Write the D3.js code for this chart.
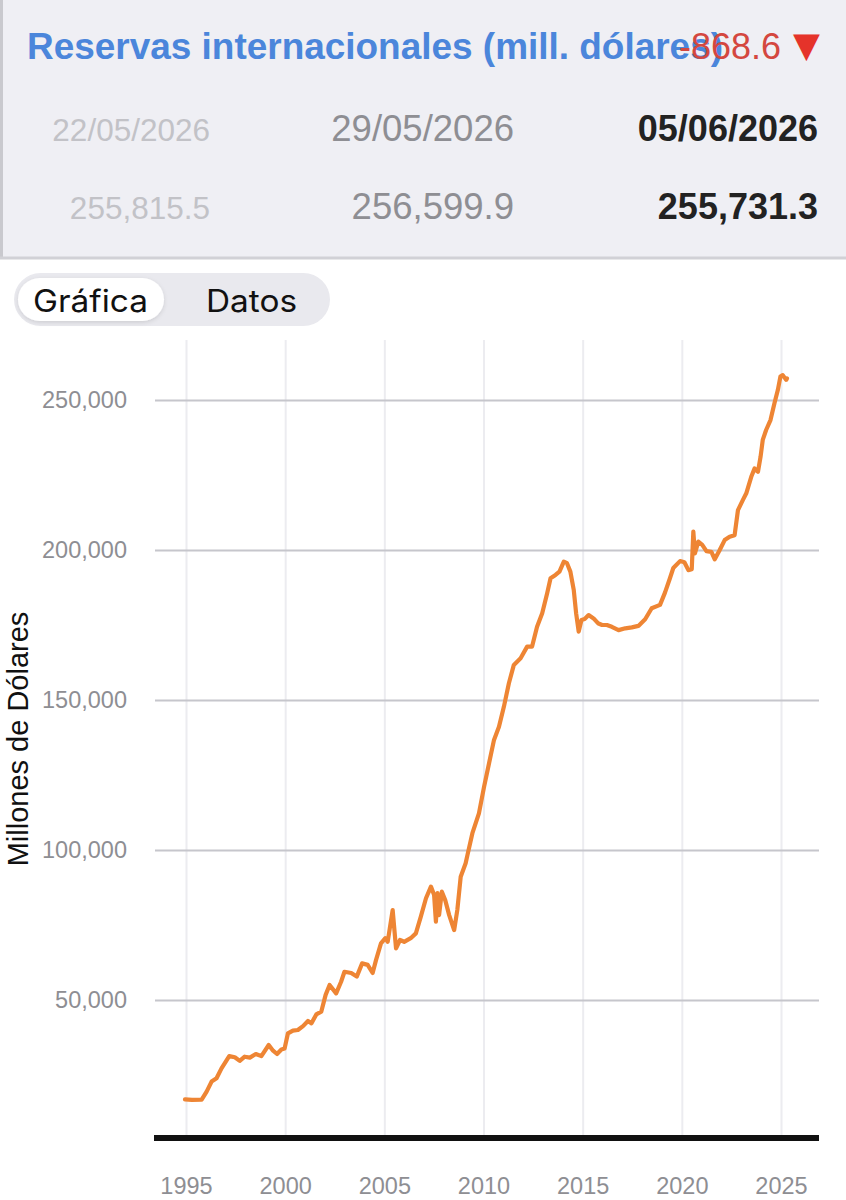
<!DOCTYPE html>
<html>
<head>
<meta charset="utf-8">
<script src="https://cdn.jsdelivr.net/npm/d3@7"></script>
<style>
  html, body { margin: 0; padding: 0; background: #ffffff; }
  svg { display: block; }
</style>
</head>
<body>
<svg id="chart" width="846" height="1200"></svg>
<script>
// ---------------- DATA ----------------
const years = [
  1994.95, 1995.3, 1995.79, 1996.04, 1996.29, 1996.54, 1996.79, 1997.18, 1997.46, 1997.71,
  1997.96, 1998.22, 1998.52, 1998.8, 1999.17, 1999.39, 1999.59, 1999.81, 1999.97, 2000.14,
  2000.39, 2000.64, 2000.9, 2001.15, 2001.32, 2001.57, 2001.82, 2002.04, 2002.24, 2002.57,
  2002.82, 2002.99, 2003.33, 2003.61, 2003.88, 2004.16, 2004.41, 2004.58, 2004.83, 2005.05,
  2005.17, 2005.42, 2005.59, 2005.79, 2006.0, 2006.33, 2006.59, 2006.84, 2007.1, 2007.35,
  2007.51, 2007.6, 2007.68, 2007.76, 2007.9, 2008.07, 2008.27, 2008.52, 2008.68, 2008.85,
  2009.1, 2009.19, 2009.44, 2009.77, 2010.03, 2010.28, 2010.53, 2010.78, 2011.03, 2011.28,
  2011.53, 2011.87, 2012.2, 2012.45, 2012.7, 2012.96, 2013.21, 2013.38, 2013.63, 2013.83,
  2014.05, 2014.21, 2014.38, 2014.55, 2014.67, 2014.8, 2014.94, 2015.1, 2015.3, 2015.55,
  2015.77, 2015.98, 2016.22, 2016.47, 2016.81, 2017.15, 2017.48, 2017.81, 2018.15, 2018.48,
  2018.9, 2019.15, 2019.4, 2019.57, 2019.91, 2020.13, 2020.33, 2020.5, 2020.58, 2020.66,
  2020.83, 2021.03, 2021.24, 2021.49, 2021.66, 2021.91, 2022.16, 2022.41, 2022.66, 2022.83,
  2023.08, 2023.25, 2023.5, 2023.67, 2023.84, 2023.97, 2024.08, 2024.25, 2024.47, 2024.67,
  2024.84, 2024.97, 2025.09, 2025.26, 2025.3
];
const reserves = [
  16900, 16700, 16800, 19450, 22800, 23900, 27200, 31300, 30900, 29700,
  31100, 30800, 32000, 31300, 35000, 33100, 32000, 33500, 33800, 38900,
  39800, 40000, 41300, 43000, 42200, 45200, 46100, 51700, 55000, 52200,
  56100, 59400, 59000, 57800, 62200, 61700, 59000, 63300, 68900, 70600,
  69400, 80000, 67200, 70000, 69400, 70600, 72200, 77800, 83900, 87800,
  85000, 76100, 85600, 78300, 86100, 83300, 78300, 73300, 80000, 91100,
  95600, 98300, 105600, 112200, 121100, 128900, 136700, 141100, 147800, 155600,
  161700, 163900, 167800, 167800, 174400, 178900, 185600, 190600, 191700, 192800,
  196100, 195600, 192800, 186700, 178900, 172800, 176700, 177000, 178300, 177200,
  175600, 175000, 175000, 174400, 173300, 173900, 174200, 174700, 176900, 180600,
  181700, 185800, 190600, 194000, 196300, 195900, 193300, 193600, 206100, 198900,
  202800, 201700, 199600, 199400, 196900, 200000, 203300, 204400, 204900, 213300,
  216700, 218900, 224400, 227200, 226100, 231100, 236700, 240000, 243300, 248900,
  253300, 257800, 258300, 256700, 257200
];
const xTicks = [1995, 2000, 2005, 2010, 2015, 2020, 2025];
const yTicks = [50000, 100000, 150000, 200000, 250000];
const axisFloor = 4000;

const titleText = "Reservas internacionales (mill. dólares)";
const changeText = "-868.6";
const changeArrow = "▼";
const headerDates = ["22/05/2026", "29/05/2026", "05/06/2026"];
const headerValues = ["255,815.5", "256,599.9", "255,731.3"];
const tabLabels = ["Gráfica", "Datos"];
const yAxisTitle = "Millones de Dólares";

// ---------------- DRAW ----------------
const svg = d3.select("#chart");
const ARIAL = "'Liberation Sans', Arial, Helvetica, sans-serif";
const UI = "Inter, 'Noto Sans', sans-serif";

const defs = svg.append("defs");
const f = defs.append("filter").attr("id", "sh").attr("x", "-20%").attr("y", "-30%").attr("width", "140%").attr("height", "160%");
f.append("feDropShadow").attr("dx", 0).attr("dy", 1.5).attr("stdDeviation", 2).attr("flood-color", "#000").attr("flood-opacity", 0.12);

// Header panel
const header = svg.append("g");
header.append("rect").attr("x", 0).attr("y", 0).attr("width", 846).attr("height", 258).attr("fill", "#efeff4");
header.append("line").attr("x1", 1.5).attr("x2", 1.5).attr("y1", 0).attr("y2", 259).attr("stroke", "#c9c9ce").attr("stroke-width", 3);
header.append("line").attr("x1", 0).attr("x2", 846).attr("y1", 258).attr("y2", 258).attr("stroke", "#d1d1d6").attr("stroke-width", 3);

header.append("text").attr("x", 27).attr("y", 59)
  .attr("font-family", ARIAL).attr("font-weight", "bold").attr("font-size", 36)
  .attr("fill", "#4b86db").attr("textLength", 696).attr("lengthAdjust", "spacingAndGlyphs")
  .text(titleText);
header.append("text").attr("x", 781).attr("y", 59).attr("text-anchor", "end")
  .attr("font-family", ARIAL).attr("font-size", 36).attr("fill", "#d4473f")
  .text(changeText);
header.append("text").attr("x", 820).attr("y", 57).attr("text-anchor", "end")
  .attr("font-family", "'DejaVu Sans', sans-serif").attr("font-size", 35).attr("fill", "#e5332a")
  .text(changeArrow);

const colX = [210, 514, 818];
const colSize = [31.5, 36.5, 36];
const colFill = ["#c2c2c7", "#8e8e93", "#222222"];
const colWeight = ["normal", "normal", "bold"];
headerDates.forEach((d, i) => {
  header.append("text").attr("x", colX[i]).attr("y", 141).attr("text-anchor", "end")
    .attr("font-family", ARIAL).attr("font-size", colSize[i]).attr("font-weight", colWeight[i])
    .attr("fill", colFill[i]).text(d);
});
headerValues.forEach((d, i) => {
  header.append("text").attr("x", colX[i]).attr("y", 219).attr("text-anchor", "end")
    .attr("font-family", ARIAL).attr("font-size", colSize[i]).attr("font-weight", colWeight[i])
    .attr("fill", colFill[i]).text(d);
});

// Segmented control
const seg = svg.append("g");
seg.append("rect").attr("x", 14).attr("y", 273).attr("width", 316).attr("height", 53).attr("rx", 26.5).attr("fill", "#e9e9ee");
seg.append("rect").attr("x", 18).attr("y", 278).attr("width", 146).attr("height", 43).attr("rx", 21.5).attr("fill", "#ffffff").attr("filter", "url(#sh)");
const tabCx = [90.5, 251.5];
const tabLen = [115, 91];
tabLabels.forEach((t, i) => {
  seg.append("text").attr("x", tabCx[i]).attr("y", 312).attr("text-anchor", "middle")
    .attr("font-family", UI).attr("font-size", 31).attr("fill", "#111")
    .attr("textLength", tabLen[i]).attr("lengthAdjust", "spacingAndGlyphs")
    .text(t);
});

// Chart
const xLeft = 155, xRight = 819, plotTop = 340;
const x = d3.scaleLinear().domain([1995, 2025]).range([186, 781]);
const y = d3.scaleLinear().domain([0, 250000]).range([1150, 400]);
const yFloor = y(axisFloor);

const xAxis = d3.axisBottom(x).tickValues(xTicks).tickFormat(d3.format("d"))
  .tickSize(-(yFloor - plotTop)).tickPadding(39);
const gx = svg.append("g").attr("transform", `translate(0,${yFloor})`).call(xAxis);
gx.select(".domain").remove();
gx.selectAll(".tick line").attr("stroke", "#ececf0").attr("stroke-width", 2);
gx.selectAll(".tick text").attr("font-family", ARIAL).attr("font-size", 23.5).attr("fill", "#8e8e93");

const yAxis = d3.axisLeft(y).tickValues(yTicks).tickFormat(d3.format(","))
  .tickSize(-(xRight - xLeft)).tickPadding(28);
const gy = svg.append("g").attr("transform", `translate(${xLeft},0)`).call(yAxis);
gy.select(".domain").remove();
gy.selectAll(".tick line").attr("stroke", "#c6c6cc").attr("stroke-width", 2);
gy.selectAll(".tick text").attr("font-family", ARIAL).attr("font-size", 23.5).attr("fill", "#8e8e93");

svg.append("text").attr("transform", `translate(28,${y(137000)}) rotate(-90)`)
  .attr("text-anchor", "middle").attr("font-family", ARIAL).attr("font-size", 29).attr("fill", "#111")
  .text(yAxisTitle);

const series = years.map((yr, i) => ({ yr, v: reserves[i] }));
const line = d3.line().x(d => x(d.yr)).y(d => y(d.v));
svg.append("path").datum(series).attr("d", line)
  .attr("fill", "none").attr("stroke", "#ee8534").attr("stroke-width", 4.2)
  .attr("stroke-linejoin", "round").attr("stroke-linecap", "round");

svg.append("line").attr("x1", xLeft - 1).attr("x2", xRight).attr("y1", yFloor).attr("y2", yFloor)
  .attr("stroke", "#111").attr("stroke-width", 6);
</script>
</body>
</html>
